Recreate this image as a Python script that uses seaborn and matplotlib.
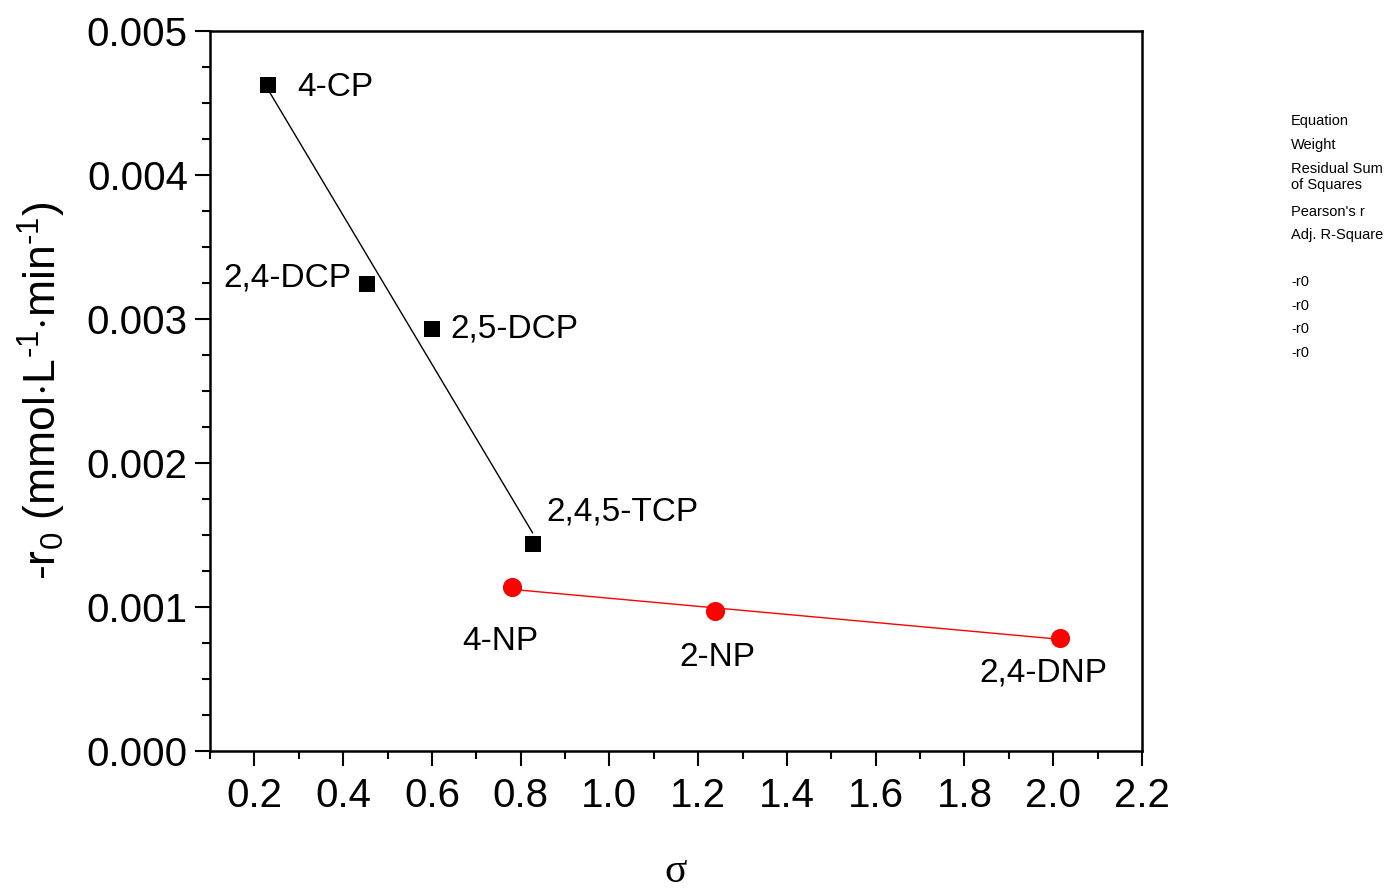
import matplotlib
matplotlib.use("Agg")
import matplotlib.pyplot as plt
import seaborn as sns
import numpy as np
import pandas as pd
from matplotlib.ticker import MultipleLocator, FormatStrFormatter

# Data
cp_names = ["4-CP", "2,4-DCP", "2,5-DCP", "2,4,5-TCP"]
cp_sigma = [0.23, 0.454, 0.60, 0.827]
cp_rate = [0.004626, 0.003245, 0.002933, 0.001435]

np_names = ["4-NP", "2-NP", "2,4-DNP"]
np_sigma = [0.78, 1.238, 2.016]
np_rate = [0.001137, 0.000971, 0.000784]

legend_lines = ["Equation", "Weight", "Residual Sum\nof Squares", "Pearson's r", "Adj. R-Square"]
legend_series = ["-r0", "-r0", "-r0", "-r0"]

sns.set_theme(style="ticks")
plt.rcParams['font.family'] = ['Liberation Sans', 'DejaVu Sans']
plt.rcParams['mathtext.fontset'] = 'custom'
plt.rcParams['mathtext.rm'] = 'Liberation Sans'
plt.rcParams['mathtext.it'] = 'Liberation Sans'
plt.rcParams['text.color'] = 'black'
plt.rcParams['axes.labelcolor'] = 'black'

fig = plt.figure(figsize=(13.89, 8.9), dpi=100)
ax = fig.add_axes([210/1389, 1 - 751/890, (1142-210)/1389, (751-31)/890])

df_cp = pd.DataFrame({"sigma": cp_sigma, "rate": cp_rate, "name": cp_names})
df_np = pd.DataFrame({"sigma": np_sigma, "rate": np_rate, "name": np_names})

sns.regplot(data=df_cp, x="sigma", y="rate", ax=ax, scatter=False, ci=None,
            truncate=True, line_kws=dict(color="black", lw=1))
sns.regplot(data=df_np, x="sigma", y="rate", ax=ax, scatter=False, ci=None,
            truncate=True, line_kws=dict(color="red", lw=1))
sns.scatterplot(data=df_cp, x="sigma", y="rate", ax=ax, marker="s", s=125,
                color="black", edgecolor="black", linewidth=0, zorder=3)
sns.scatterplot(data=df_np, x="sigma", y="rate", ax=ax, marker="o", s=190,
                color="red", edgecolor="red", linewidth=0, zorder=3)

# Labels (offsets in points)
offsets_cp = [(21, -2, "left"), (-11, 4, "right"), (13, -0.5, "left"), (10, 23, "left")]
offsets_np = [(-36, -39, "left"), (-26, -33, "left"), (-58, -25, "left")]
for (x, y, n), (dx, dy, ha) in zip(zip(cp_sigma, cp_rate, cp_names), offsets_cp):
    ax.annotate(n, (x, y), xytext=(dx, dy), textcoords="offset points",
                ha=ha, va="center", fontsize=24, color="black")
for (x, y, n), (dx, dy, ha) in zip(zip(np_sigma, np_rate, np_names), offsets_np):
    ax.annotate(n, (x, y), xytext=(dx, dy), textcoords="offset points",
                ha=ha, va="center", fontsize=24, color="black")

ax.set_xlim(0.1, 2.2)
ax.set_ylim(0.0, 0.005)
ax.xaxis.set_major_locator(MultipleLocator(0.2))
ax.xaxis.set_minor_locator(MultipleLocator(0.1))
ax.yaxis.set_major_locator(MultipleLocator(0.001))
ax.yaxis.set_minor_locator(MultipleLocator(0.00025))
ax.xaxis.set_major_formatter(FormatStrFormatter("%.1f"))
ax.yaxis.set_major_formatter(FormatStrFormatter("%.3f"))
ax.tick_params(axis="both", which="major", direction="out", length=11, width=1.5,
               labelsize=29, color="black", labelcolor="black")
ax.tick_params(axis="x", which="major", pad=8)
ax.tick_params(axis="y", which="major", pad=5)
ax.tick_params(axis="both", which="minor", direction="out", length=6, width=1.5, color="black")
ax.tick_params(top=False, right=False, which="both")
for s in ax.spines.values():
    s.set_linewidth(1.8)
    s.set_color("black")
    s.set_visible(True)

ax.set_xlabel("")
ax.set_ylabel(r"-r$_0$ (mmol$\cdot$L$^{\text{-}1}$$\cdot$min$^{\text{-}1}$)", fontsize=32)
ax.yaxis.set_label_coords(-0.152, 0.5)
fig.text(676/1389, 1 - 872/890, "σ", fontsize=30, family="Liberation Serif",
         ha="center", va="center")

# Legend-like text block
ys = [121, 145, 177, 212, 235]
for t, y in zip(legend_lines, ys):
    fig.text(1291/1389, 1 - y/890, t, fontsize=10.5, ha="left", va="center",
             linespacing=1.1)
for i, t in enumerate(legend_series):
    fig.text(1291/1389, 1 - (282 + 23.7*i)/890, t, fontsize=10.5, ha="left", va="center")

fig.savefig("out.png", dpi=100)
